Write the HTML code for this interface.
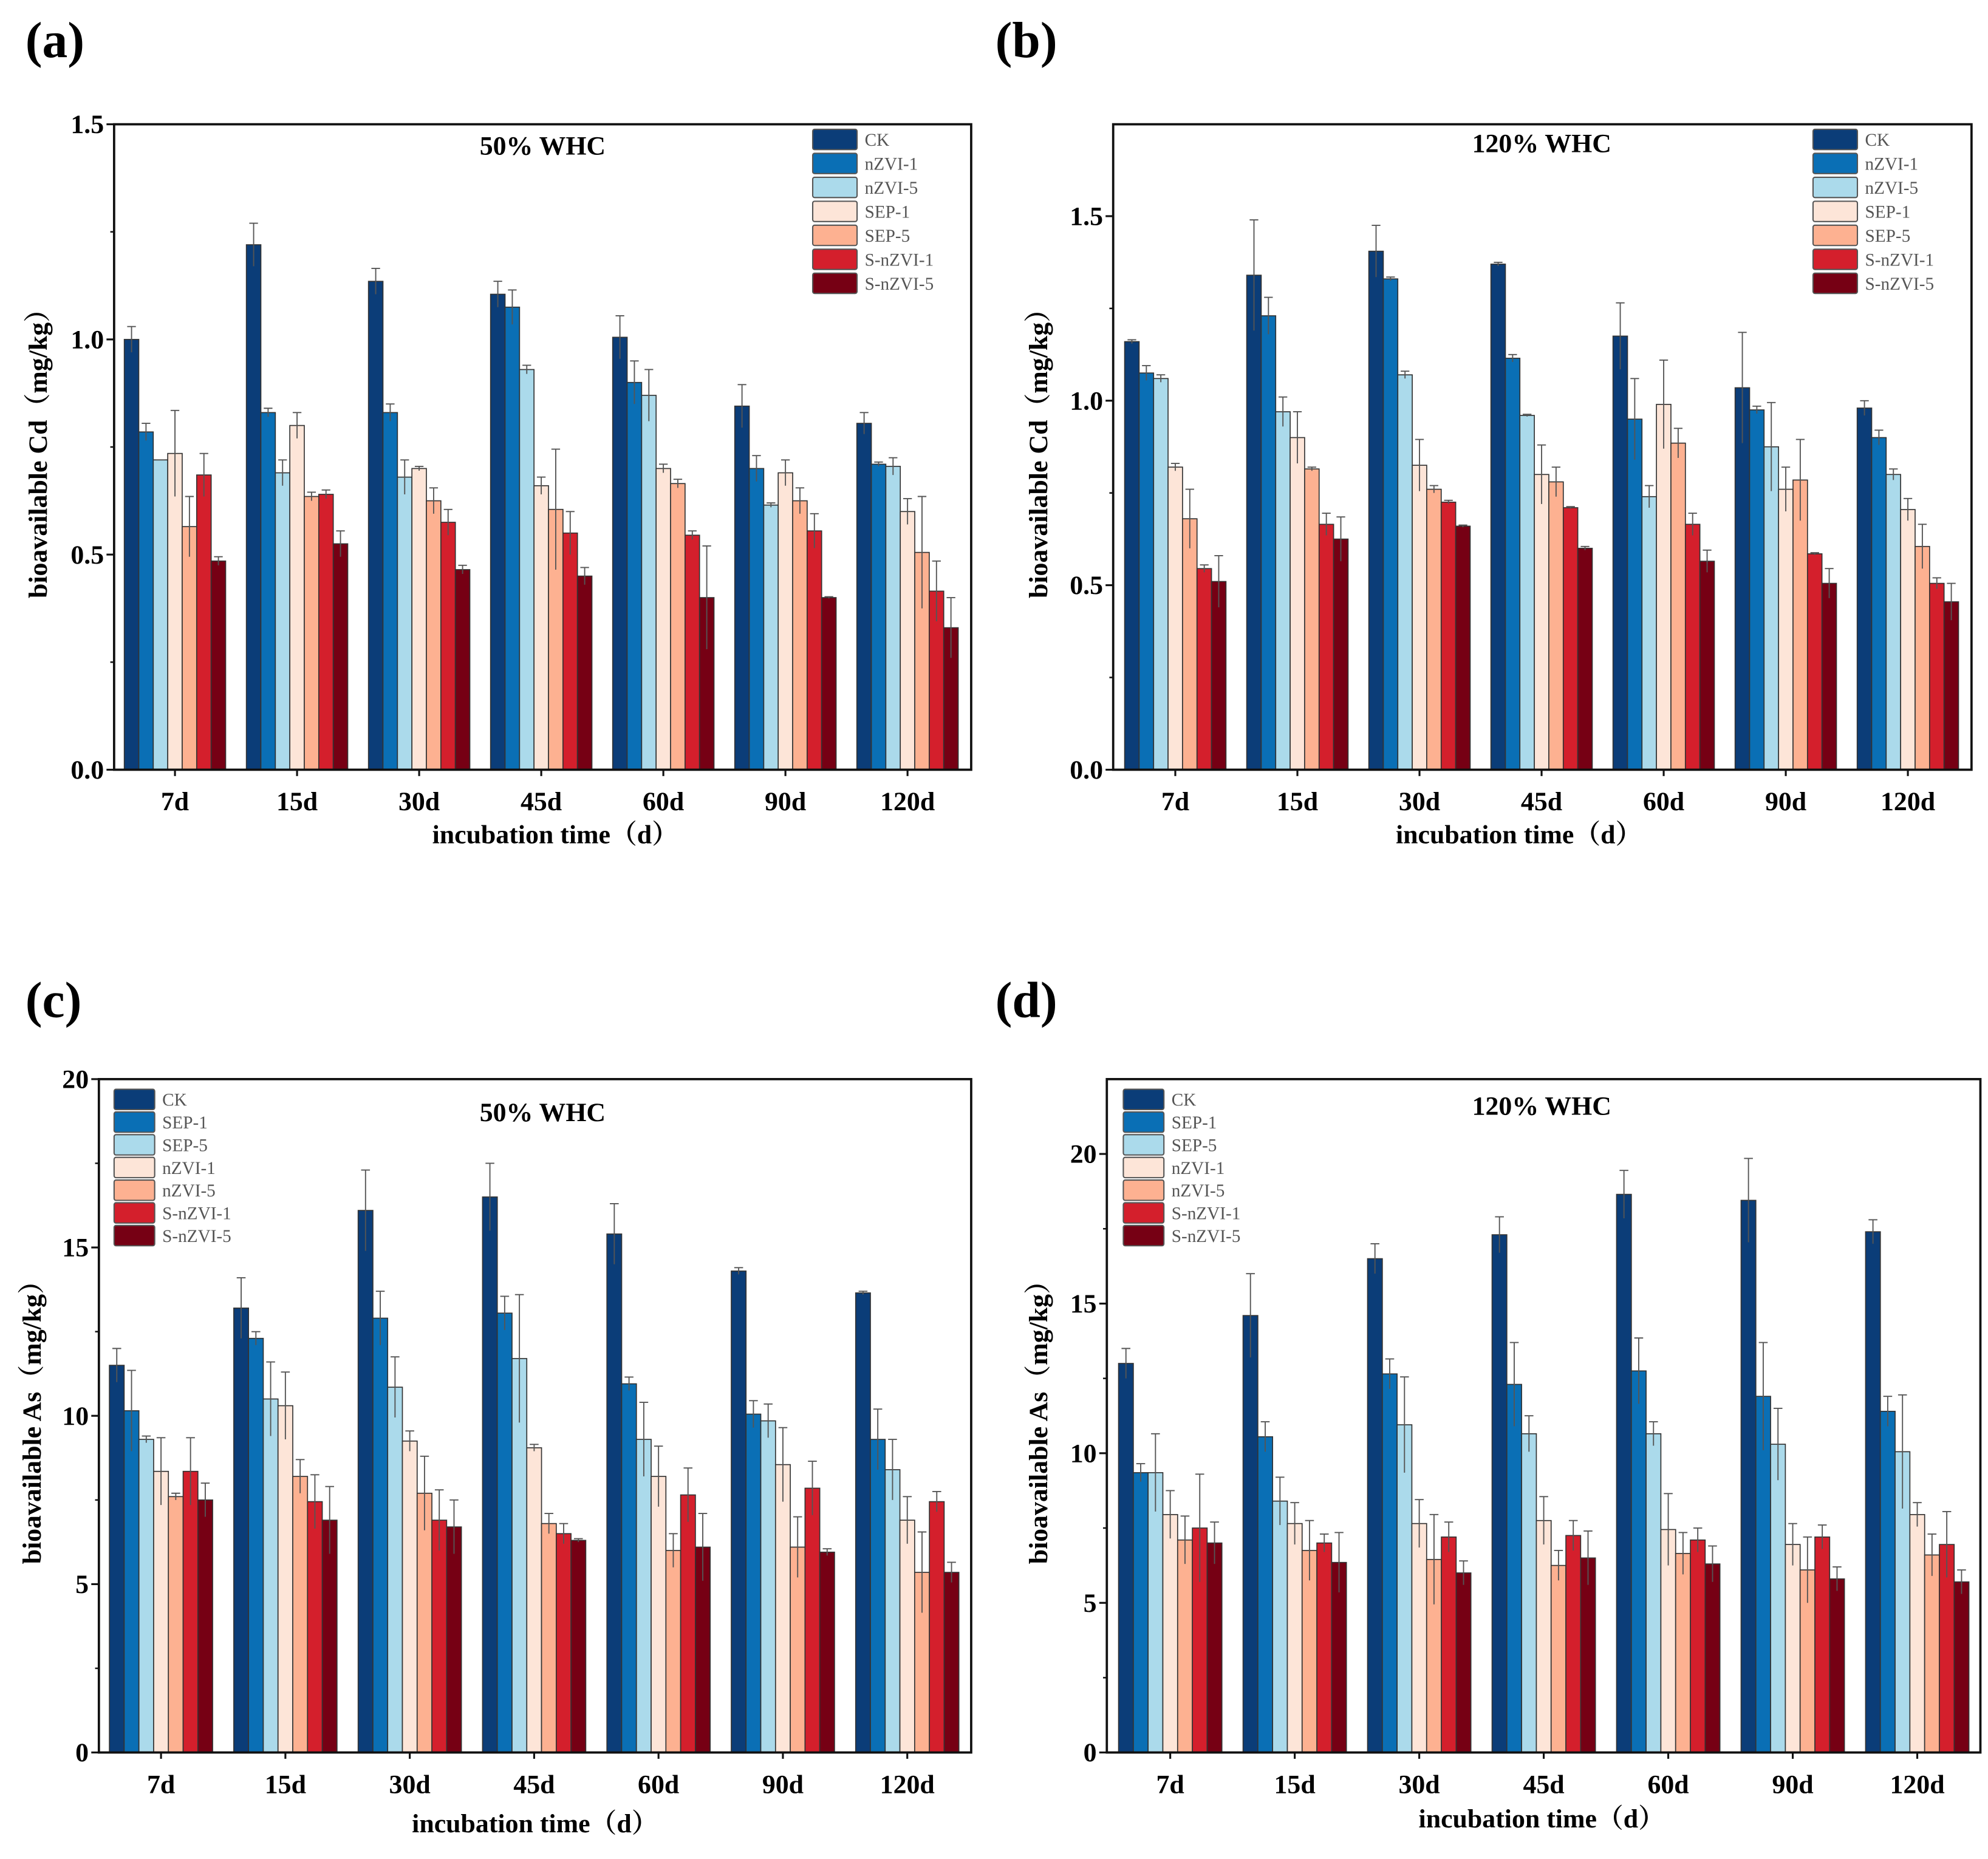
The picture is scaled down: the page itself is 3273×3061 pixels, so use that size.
<!DOCTYPE html>
<html><head><meta charset="utf-8">
<style>
html,body{margin:0;padding:0;background:#fff;}
svg{display:block;}
text{font-family:"Liberation Serif","Noto Serif CJK SC",serif;}
</style></head>
<body>
<svg id="fig" width="3273" height="3061" viewBox="0 0 1568 1466" preserveAspectRatio="none" xmlns="http://www.w3.org/2000/svg"></svg>
<script>
const categories = ["7d","15d","30d","45d","60d","90d","120d"];
const legendCd = ["CK","nZVI-1","nZVI-5","SEP-1","SEP-5","S-nZVI-1","S-nZVI-5"];
const legendAs = ["CK","SEP-1","SEP-5","nZVI-1","nZVI-5","S-nZVI-1","S-nZVI-5"];
const colors = ["#0b3d78","#0a6fb5","#abdaeb","#fde5d8","#fdb191","#d41f2c","#760014"];

// values[group][series]
const cd50 = [[1.00,0.785,0.72,0.735,0.565,0.685,0.485],[1.22,0.83,0.69,0.80,0.635,0.64,0.525],[1.135,0.83,0.68,0.70,0.625,0.575,0.465],[1.105,1.075,0.93,0.66,0.605,0.55,0.45],[1.005,0.90,0.87,0.70,0.665,0.545,0.40],[0.845,0.70,0.615,0.69,0.625,0.555,0.40],[0.805,0.71,0.705,0.60,0.505,0.415,0.33]];
const cd50err = [[.03,.02,0,.1,.07,.05,.01],[.05,.01,.03,.03,.01,.01,.03],[.03,.02,.04,.005,.03,.03,.01],[.03,.04,.01,.02,.14,.05,.02],[.05,.05,.06,.01,.01,.01,.12],[.05,.03,.005,.03,.03,.04,.002],[.025,.005,.02,.03,.13,.07,.07]];
const cd120 = [[1.16,1.075,1.06,0.82,0.68,0.545,0.51],[1.34,1.23,0.97,0.90,0.815,0.665,0.625],[1.405,1.33,1.07,0.825,0.76,0.725,0.66],[1.37,1.115,0.96,0.80,0.78,0.71,0.60],[1.175,0.95,0.74,0.99,0.885,0.665,0.565],[1.035,0.975,0.875,0.76,0.785,0.585,0.505],[0.98,0.90,0.80,0.705,0.605,0.505,0.455]];
const cd120err = [[.005,.02,.01,.01,.08,.01,.07],[.15,.05,.04,.07,.005,.03,.06],[.07,.005,.01,.07,.01,.005,.003],[.005,.01,.003,.08,.04,.003,.005],[.09,.11,.03,.12,.04,.03,.03],[.15,.01,.12,.06,.11,.003,.04],[.02,.02,.015,.03,.06,.015,.05]];
const as50 = [[11.5,10.15,9.3,8.35,7.6,8.35,7.5],[13.2,12.3,10.5,10.3,8.2,7.45,6.9],[16.1,12.9,10.85,9.25,7.7,6.9,6.7],[16.5,13.05,11.7,9.05,6.8,6.5,6.3],[15.4,10.95,9.3,8.2,6.0,7.65,6.1],[14.3,10.05,9.85,8.55,6.1,7.85,5.95],[13.65,9.3,8.4,6.9,5.35,7.45,5.35]];
const as50err = [[.5,1.2,.1,1,.1,1,.5],[.9,.2,1.1,1,.5,.8,1],[1.2,.8,.9,.3,1.1,.9,.8],[1,.5,1.9,.1,.3,.3,.05],[.9,.2,1.1,.9,.5,.8,1],[.1,.4,.5,1.1,.9,.8,.1],[.05,.9,.9,.7,1.2,.3,.3]];
const as120 = [[13.0,9.35,9.35,7.95,7.1,7.5,7.0],[14.6,10.55,8.4,7.65,6.75,7.0,6.35],[16.5,12.65,10.95,7.65,6.45,7.2,6.0],[17.3,12.3,10.65,7.75,6.25,7.25,6.5],[18.65,12.75,10.65,7.45,6.65,7.1,6.3],[18.45,11.9,10.3,6.95,6.1,7.2,5.8],[17.4,11.4,10.05,7.95,6.6,6.95,5.7]];
const as120err = [[.5,.3,1.3,.8,.8,1.8,.7],[1.4,.5,.8,.7,1,.3,1],[.5,.5,1.6,.8,1.5,.5,.4],[.6,1.4,.6,.8,.5,.5,.9],[.8,1.1,.4,1.2,.7,.4,.6],[1.4,1.8,1.2,.7,1.1,.4,.4],[.4,.5,1.9,.4,.7,1.1,.4]];
const ticksCd50 = [0,0.5,1.0,1.5];
const ticksCd120 = [0,0.5,1.0,1.5];
const ticksAs50 = [0,5,10,15,20];
const ticksAs120 = [0,5,10,15,20];

const NS="http://www.w3.org/2000/svg";
const fig=document.getElementById('fig');
function mk(tag,attrs,parent,txt){const e=document.createElementNS(NS,tag);for(const k in attrs)e.setAttribute(k,attrs[k]);if(txt!==undefined)e.textContent=txt;(parent||fig).appendChild(e);return e;}

function panel(o){
  const g=mk('g',{});
  
  
  const y=v=>o.y1-(v-0)/(o.ymax)*(o.y1-o.y0);
  const x=i=>o.x0+o.firstOff+i*o.spacing;
  const bw=o.spacing*0.83/7;
  const pl=mk('text',{x:o.labX,y:o.labY,'font-size':40,'font-weight':'bold'},g,'('+o.id+')');
  
  
  o.data.forEach((grp,gi)=>{
    grp.forEach((v,si)=>{
      const bx=x(gi)-3.5*bw+si*bw;
      const r=mk('rect',{x:bx,y:y(v),width:bw,height:o.y1-y(v),fill:colors[si],stroke:'#333','stroke-width':0.8},g);
      
      
      const e=o.err[gi][si];
      const cx=bx+bw/2;
      const eb=mk('path',{d:`M${cx},${y(v-e)}V${y(v+e)}M${cx-bw*0.3},${y(v+e)}H${cx+bw*0.3}`,stroke:'#555','stroke-width':0.9,fill:'none'},g);
      
      
    });
  });
  const fr=mk('rect',{x:o.x0,y:o.y0,width:o.x1-o.x0,height:o.y1-o.y0,fill:'none',stroke:'#111','stroke-width':1.8},g);
  
  
  o.ticks.forEach(t=>{
    const ty=y(t);
    mk('line',{x1:o.x0,x2:o.x0-6,y1:ty,y2:ty,stroke:'#111','stroke-width':1.5},g);
    const tl=mk('text',{x:o.x0-8,y:ty+7,'font-size':21,'font-weight':'bold','text-anchor':'end'},g,o.fmt(t));
    
    
  });
  for(let i=0;i<o.ticks.length-1;i++){const m=(o.ticks[i]+o.ticks[i+1])/2;mk('line',{x1:o.x0,x2:o.x0-3,y1:y(m),y2:y(m),stroke:'#111','stroke-width':1.2},g);}
  categories.forEach((c,i)=>{
    mk('line',{x1:x(i),x2:x(i),y1:o.y1,y2:o.y1+5,stroke:'#111','stroke-width':1.5},g);
    const xl=mk('text',{x:x(i),y:o.y1+32,'font-size':21,'font-weight':'bold','text-anchor':'middle'},g,c);
    
    
  });
  const xt=mk('text',{x:o.xtX,y:o.xtY,'font-size':21,'font-weight':'bold','text-anchor':'middle'},g,'incubation time（d）');
  
  
  const yt=mk('text',{x:0,y:0,'font-size':21,'font-weight':'bold','text-anchor':'middle',transform:`translate(${o.ytX},${(o.y0+o.y1)/2}) rotate(-90)`},g,o.ytitle);
  
  
  const tt=mk('text',{x:o.ttX,y:o.ttY,'font-size':21,'font-weight':'bold','text-anchor':'middle'},g,o.title);
  
  
  o.legend.forEach((n,i)=>{
    const ly=o.lgY+i*o.lgStep;
    const lr=mk('rect',{x:o.lgX,y:ly-8,width:o.lgW,height:16,fill:colors[i],stroke:'#555','stroke-width':1,rx:1.5},g);
    
    
    const lt=mk('text',{x:o.lgX+o.lgW+6,y:ly+5,'font-size':14,fill:'#555'},g,n);
    
    
  });
}
const f1=v=>v.toFixed(1), f0=v=>String(v);
panel({id:'a',x0:90,x1:766,y0:98,y1:607,ymax:1.5,firstOff:48,spacing:96.3,data:cd50,err:cd50err,ticks:ticksCd50,fmt:f1,legend:legendCd,
  labX:20,labY:45,xtX:438,xtY:665,ytX:37,ytitle:'bioavailable Cd（mg/kg）',title:'50% WHC',ttX:428,ttY:122,lgX:641,lgW:35,lgY:110,lgStep:18.9});
panel({id:'b',x0:878,x1:1555,y0:98,y1:607,ymax:1.749,firstOff:49,spacing:96.3,data:cd120,err:cd120err,ticks:ticksCd120,fmt:f1,legend:legendCd,
  labX:785,labY:45,xtX:1198,xtY:665,ytX:826,ytitle:'bioavailable Cd（mg/kg）',title:'120% WHC',ttX:1216,ttY:120,lgX:1430,lgW:35,lgY:110,lgStep:18.9});
panel({id:'c',x0:78,x1:766,y0:851,y1:1382,ymax:20,firstOff:49,spacing:98.1,data:as50,err:as50err,ticks:ticksAs50,fmt:f0,legend:legendAs,
  labX:20,labY:802,xtX:422,xtY:1445,ytX:32,ytitle:'bioavailable As（mg/kg）',title:'50% WHC',ttX:428,ttY:884,lgX:90,lgW:32,lgY:867,lgStep:17.9});
panel({id:'d',x0:873,x1:1562,y0:851,y1:1382,ymax:22.5,firstOff:50,spacing:98.2,data:as120,err:as120err,ticks:ticksAs120,fmt:f0,legend:legendAs,
  labX:785,labY:802,xtX:1216,xtY:1441,ytX:826,ytitle:'bioavailable As（mg/kg）',title:'120% WHC',ttX:1216,ttY:879,lgX:886,lgW:32,lgY:867,lgStep:17.9});
</script>
</body></html>
